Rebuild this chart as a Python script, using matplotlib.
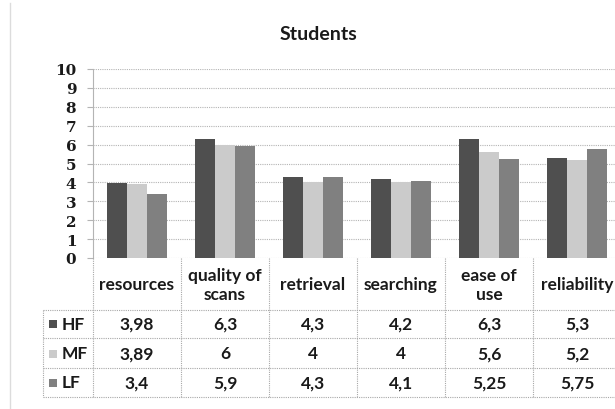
import matplotlib
matplotlib.use("Agg")
import matplotlib.pyplot as plt
import matplotlib.transforms as mtransforms
from matplotlib.lines import Line2D
from matplotlib.patches import Rectangle

# Data
categories = ["resources", "quality of\nscans", "retrieval", "searching", "ease of\nuse", "reliability"]
series_names = ["HF", "MF", "LF"]
hf = [3.98, 6.3, 4.3, 4.2, 6.3, 5.3]
mf = [3.89, 6.0, 4.0, 4.0, 5.6, 5.2]
lf = [3.4, 5.9, 4.3, 4.1, 5.25, 5.75]
hf_labels = ["3,98", "6,3", "4,3", "4,2", "6,3", "5,3"]
mf_labels = ["3,89", "6", "4", "4", "5,6", "5,2"]
lf_labels = ["3,4", "5,9", "4,3", "4,1", "5,25", "5,75"]
y_ticks = list(range(0, 11))
title = "Students"

series = [hf, mf, lf]
series_labels = [hf_labels, mf_labels, lf_labels]
colors = ["#4f4f4f", "#cbcbcb", "#808080"]

W, H = 615, 410
fig = plt.figure(figsize=(W / 100, H / 100), dpi=100)
fig.patch.set_facecolor("white")

def fx(x):
    return x / W

def fy(y):
    return 1 - y / H

SANS = ["Lato", "DejaVu Sans"]
SERIF = ["DejaVu Serif"]
grid_c = "#b4b4b4"
text_c = "#1a1a1a"

# Plot area
x0, x1 = 93, 93 + 6 * 88
y_top, y_zero = 70, 259
ax = fig.add_axes([fx(x0), fy(y_zero), fx(x1 - x0), (y_zero - y_top) / H])
ax.set_xlim(0, len(categories))
ax.set_ylim(0, 10)
ax.set_facecolor("none")

bar_w = 0.227
for k, vals in enumerate(series):
    xs = [i + 0.5 + (k - 1) * bar_w for i in range(len(categories))]
    ax.bar(xs, vals, width=bar_w, color=colors[k], edgecolor="none", zorder=3)

ax.set_yticks(y_ticks)
ax.set_yticklabels([str(t) for t in y_ticks], fontfamily=SERIF,
                   fontweight="bold", fontsize=11, color=text_c)
ax.set_xticks([])
ax.tick_params(axis="y", length=4, color=grid_c, pad=8, width=0.8)
ax.yaxis.grid(True, color=grid_c, linestyle=(0, (1, 1)), linewidth=0.8, zorder=0)
for s in ["top", "right", "bottom"]:
    ax.spines[s].set_visible(False)
ax.spines["left"].set_color(grid_c)
ax.spines["left"].set_linestyle((0, (1, 1)))
ax.spines["left"].set_linewidth(0.8)

# Title
fig.text(fx(318), fy(34), title, ha="center", va="center",
         fontfamily=SANS, fontweight="bold", fontsize=14, color=text_c)

# Data table below the plot
tr = mtransforms.blended_transform_factory(ax.transData, fig.transFigure)
row_lines = [311, 339, 369, 398]
tbl_left = 42.7
line_kw = dict(color="#a8a8a8", linewidth=0.8, linestyle=(0, (1, 1)))

for y in row_lines:
    fig.add_artist(Line2D([fx(tbl_left), 1.0], [fy(y), fy(y)], transform=fig.transFigure, **line_kw))
fig.add_artist(Line2D([fx(tbl_left), fx(tbl_left)], [fy(311), fy(398)], transform=fig.transFigure, **line_kw))
for i in range(len(categories) + 1):
    fig.add_artist(Line2D([i, i], [fy(y_zero), fy(398)], transform=tr, **line_kw))

# Header row
for i, cat in enumerate(categories):
    fig.text(i + 0.5, fy(285.5), cat, transform=tr, ha="center", va="center",
             fontfamily=SANS, fontweight="bold", fontsize=12.5, color=text_c,
             linespacing=1.3)

# Value rows with legend keys
row_centers = [325, 354.5, 383.5]
for k, name in enumerate(series_names):
    yc = row_centers[k]
    fig.add_artist(Rectangle((fx(49), fy(yc + 4)), fx(8), 8 / H,
                             transform=fig.transFigure, facecolor=colors[k], edgecolor="none"))
    fig.text(fx(62), fy(yc), name, ha="left", va="center",
             fontfamily=SANS, fontweight="bold", fontsize=12.5, color=text_c)
    for i, lab in enumerate(series_labels[k]):
        fig.text(i + 0.5, fy(yc), lab, transform=tr, ha="center", va="center",
                 fontfamily=SANS, fontweight="bold", fontsize=12.5, color=text_c)

# Outer frame edge on the left
fig.add_artist(Line2D([fx(10), fx(10)], [fy(4), 0], transform=fig.transFigure,
                      color="#dcdcdc", linewidth=1.0))

fig.savefig("out.png", dpi=100, facecolor="white")
